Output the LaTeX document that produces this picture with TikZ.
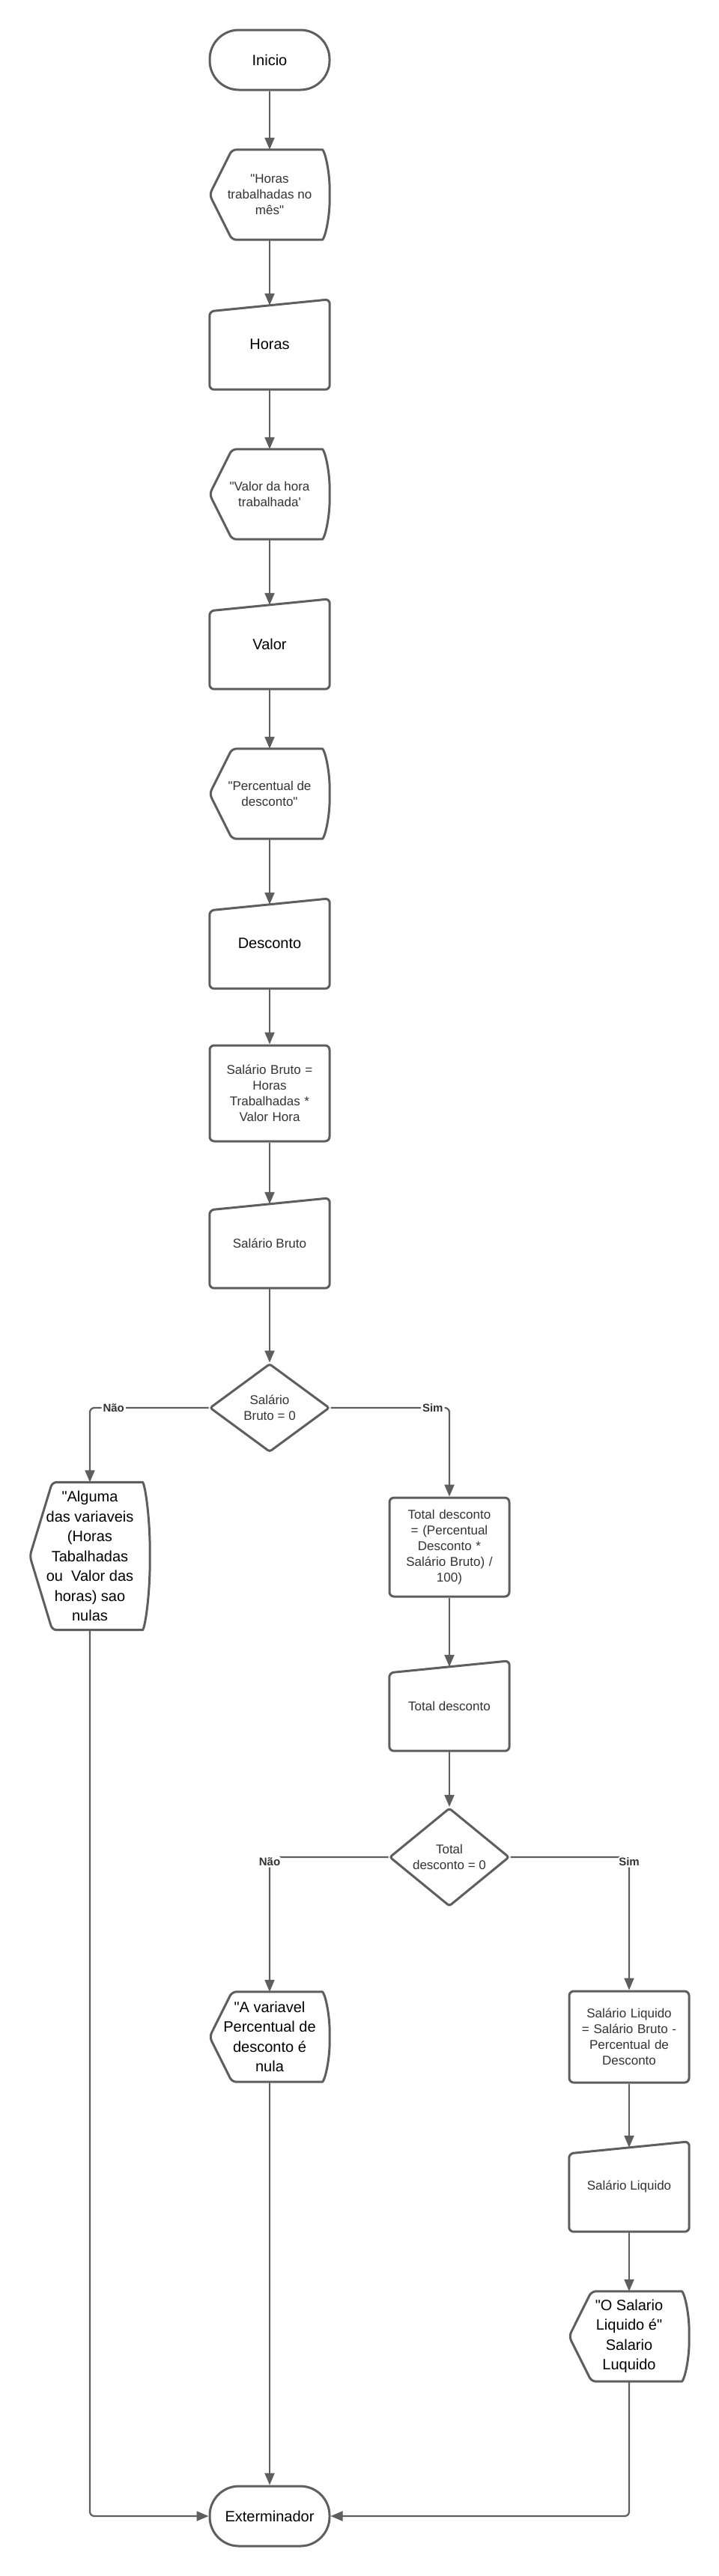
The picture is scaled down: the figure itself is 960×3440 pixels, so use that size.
\documentclass[tikz,border=0pt]{standalone}
\usepackage{fontspec}
\setmainfont{Liberation Sans}[Ligatures=TeXOff]
\usetikzlibrary{arrows.meta,shapes.geometric,calc}
\definecolor{linegray}{RGB}{94,94,94}
\definecolor{textgray}{RGB}{51,51,51}
\newcommand{\bigtxt}{\fontsize{20}{26.5}\selectfont}
\newcommand{\smalltxt}{\fontsize{17}{21}\selectfont}

\tikzset{
  shapeline/.style={draw=linegray, line width=3pt, rounded corners=6pt},
  terminal/.style={draw=linegray, line width=3pt, rounded corners=39pt,
    minimum width=160pt, minimum height=80pt, font=\bigtxt},
  process/.style={draw=linegray, line width=3pt, rounded corners=6pt,
    minimum width=160pt, minimum height=128pt, text width=150pt,
    align=center, font=\smalltxt, text=textgray},
  decision/.style={diamond, draw=linegray, line width=3pt, rounded corners=3pt,
    minimum width=160pt, minimum height=118pt, inner sep=0pt,
    align=center, font=\smalltxt, text=textgray},
  display/.style={minimum width=160pt, minimum height=120pt, align=center,
    append after command={\pgfextra{\draw[shapeline]
      ([xshift=30pt]\tikzlastnode.north west) -- (\tikzlastnode.west)
      -- ([xshift=30pt]\tikzlastnode.south west)
      -- ([xshift=-16pt]\tikzlastnode.south east)
      .. controls ([xshift=-7pt]\tikzlastnode.south east)
      and ($(\tikzlastnode.east)!0.55!(\tikzlastnode.south east)$) .. (\tikzlastnode.east)
      .. controls ($(\tikzlastnode.east)!0.55!(\tikzlastnode.north east)$)
      and ([xshift=-7pt]\tikzlastnode.north east) .. ([xshift=-16pt]\tikzlastnode.north east)
      -- cycle;}}},
  inbox/.style={display, font=\smalltxt, text=textgray},
  outbox/.style={display, font=\bigtxt, text=black},
  iobox/.style={minimum width=160pt, minimum height=120pt, align=center,
    append after command={\pgfextra{\draw[shapeline]
      (\tikzlastnode.south west) -- ([yshift=-16pt]\tikzlastnode.north west)
      -- (\tikzlastnode.north east) -- (\tikzlastnode.south east) -- cycle;}}},
  flow/.style={draw=linegray, line width=2.2pt, ->, rounded corners=6pt},
  lbl/.style={font=\fontsize{15}{18}\selectfont\bfseries, text=textgray,
    fill=white, inner sep=2pt}
}

\begin{document}
\begin{tikzpicture}[x=1pt, y=1pt, >={Triangle[length=16pt,width=13pt]}]
\path[use as bounding box, fill=white] (0,0) rectangle (960,-3440);

\node[terminal] (ini) at (360,-80) {Inicio};
\node[inbox] (d1) at (360,-260) {"Horas\\trabalhadas no\\mês"};
\node[iobox, font=\bigtxt] (hrs) at (360,-460) {Horas};
\node[inbox] (d2) at (360,-660) {"Valor da hora\\trabalhada'};
\node[iobox, font=\bigtxt] (val) at (360,-860) {Valor};
\node[inbox] (d3) at (360,-1060) {"Percentual de\\desconto"};
\node[iobox, font=\bigtxt] (dsc) at (360,-1260) {Desconto};
\node[process] (sb) at (360,-1460) {Salário Bruto =\\Horas\\Trabalhadas *\\Valor Hora};
\node[iobox, font=\smalltxt, text=textgray] (sbo) at (360,-1660) {Salário Bruto};
\node[decision] (dec1) at (360,-1880) {Salário\\Bruto = 0};

\node[outbox, minimum height=197pt] (alg) at (120,-2078)
  {"Alguma\\das variaveis\\(Horas\\Tabalhadas\\ou\ \ Valor das\\horas) sao\\nulas};

\node[process, minimum height=132pt] (td) at (600,-2066)
  {Total desconto\\= (Percentual\\Desconto *\\Salário Bruto) /\\100)};
\node[iobox, font=\smalltxt, text=textgray] (tdo) at (600,-2278) {Total desconto};
\node[decision] (dec2) at (600,-2480) {Total\\desconto = 0};

\node[outbox] (avar) at (360,-2720) {"A variavel\\Percentual de\\desconto é\\nula};
\node[process, minimum height=122pt] (sl) at (840,-2720)
  {Salário Liquido\\= Salário Bruto -\\Percentual de\\Desconto};
\node[iobox, font=\smalltxt, text=textgray] (slo) at (840,-2920) {Salário Liquido};
\node[outbox] (osal) at (840,-3120) {"O Salario\\Liquido é"\\Salario\\Luquido};

\node[terminal] (ext) at (360,-3360) {Exterminador};

\draw[flow] (ini) -- (d1);
\draw[flow] (d1) -- ([yshift=-8pt]hrs.north);
\draw[flow] (hrs) -- (d2);
\draw[flow] (d2) -- ([yshift=-8pt]val.north);
\draw[flow] (val) -- (d3);
\draw[flow] (d3) -- ([yshift=-8pt]dsc.north);
\draw[flow] (dsc) -- (sb);
\draw[flow] (sb) -- ([yshift=-8pt]sbo.north);
\draw[flow] (sbo) -- (dec1);

\draw[flow] (dec1.west) -| node[lbl, pos=0.4] {Não} (alg.north);
\draw[flow] (dec1.east) -| node[lbl, pos=0.43] {Sim} (td.north);
\draw[flow] (td) -- ([yshift=-8pt]tdo.north);
\draw[flow] (tdo) -- (dec2);

\draw[flow] (dec2.west) -| node[lbl, pos=0.5, yshift=-6pt] {Não} (avar.north);
\draw[flow] (dec2.east) -| node[lbl, pos=0.5, yshift=-6pt] {Sim} (sl.north);
\draw[flow] (sl) -- ([yshift=-8pt]slo.north);
\draw[flow] (slo) -- (osal);

\draw[flow] (alg.south) |- (ext.west);
\draw[flow] (avar) -- (ext);
\draw[flow] (osal.south) |- (ext.east);
\end{tikzpicture}
\end{document}
